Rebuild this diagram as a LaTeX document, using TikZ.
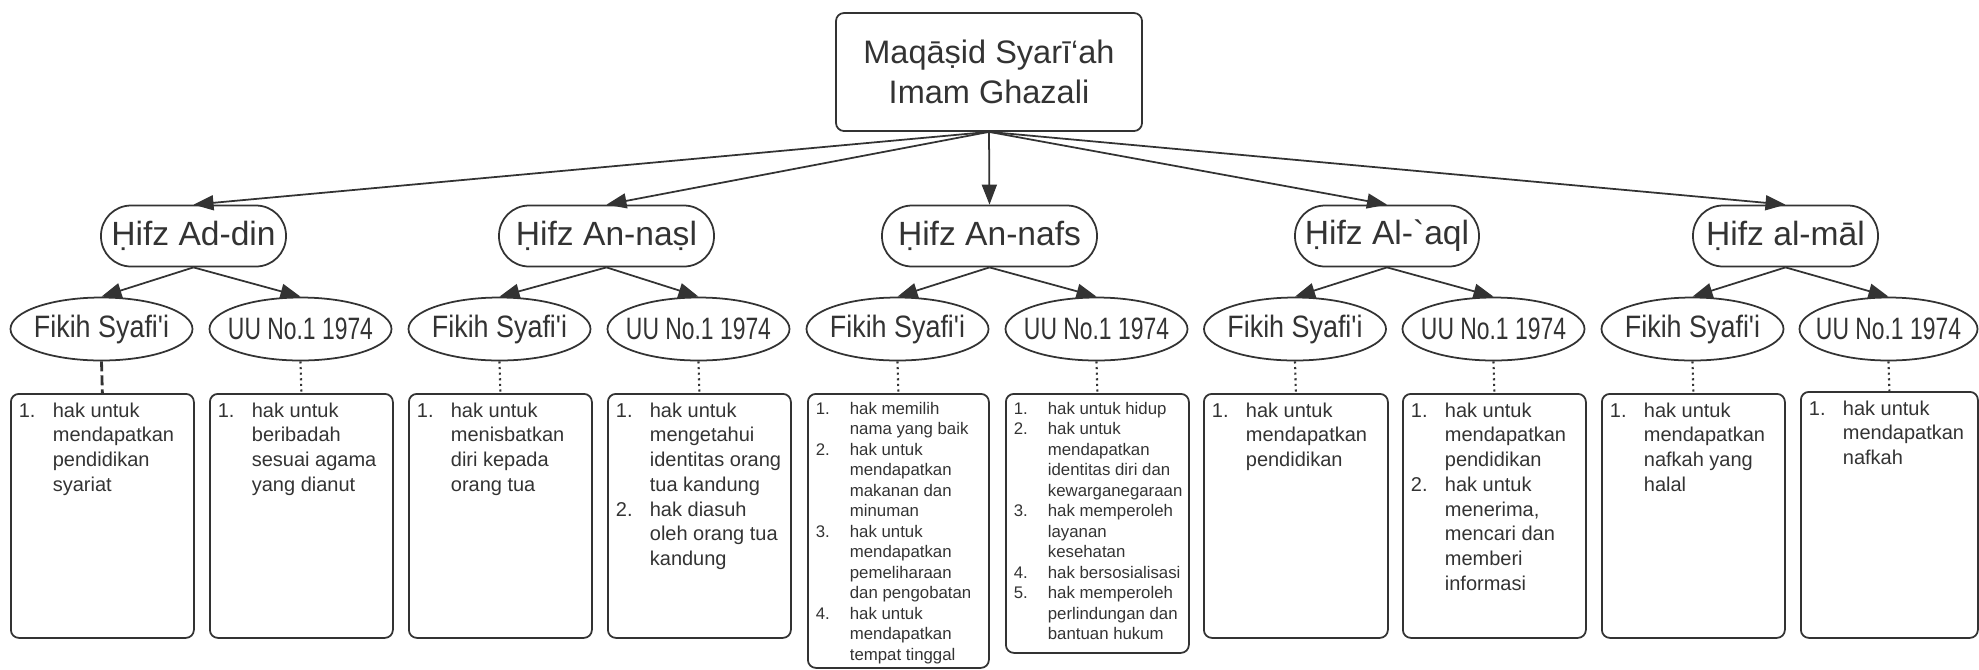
\documentclass[tikz,border=0pt]{standalone}
\usepackage{fontspec}
\setmainfont{Liberation Sans}
\usepackage{graphicx}
\usepackage{tikz}
\usetikzlibrary{arrows.meta,positioning,shapes}

\definecolor{garis}{HTML}{333333}
\definecolor{teks}{HTML}{333333}

\newcommand{\daftar}[3]{\parbox[c][#2][t]{#1}{\begin{tabular}[t]{@{}p{0.34cm}@{}l@{}}#3\end{tabular}}}
\newcommand{\sempit}[2]{\makebox[0pt]{\scalebox{#1}[1]{#2}}}

\begin{document}
\begin{tikzpicture}[
  panah/.style={-{Triangle[length=0.2cm,width=0.15cm]}, draw=garis, line width=0.5pt},
  kapsul/.style={draw=garis, line width=0.5pt, rounded corners=0.3cm, minimum height=0.61cm, inner sep=0pt, text=teks, font=\fontsize{9.56}{11}\selectfont},
  elips/.style={ellipse, draw=garis, line width=0.5pt, minimum width=1.82cm, minimum height=0.63cm, inner sep=0pt, text=teks, font=\fontsize{8.8}{10}\selectfont},
  kotak/.style={draw=garis, line width=0.5pt, rounded corners=0.08cm, anchor=north west, inner xsep=0.08cm, inner ysep=0.06cm, text=teks, font=\fontsize{5.69}{7.03}\selectfont},
  kecil/.style={font=\fontsize{4.78}{5.83}\selectfont},
  titik/.style={draw=garis, line width=0.6pt, densely dotted}
]
\useasboundingbox (0,0) rectangle (19.79,-6.69);

\node[draw=garis, line width=0.5pt, rounded corners=0.08cm, minimum width=3.06cm, minimum height=1.18cm, align=center, text=teks, font=\fontsize{9.25}{11.4}\selectfont] (root) at (9.89,-0.72) {Maqāṣid Syarī‘ah\\Imam Ghazali};

\node[kapsul, minimum width=1.85cm] (hifz1) at (1.935,-2.36) {Ḥifz Ad-din};
\node[kapsul, minimum width=2.15cm] (hifz2) at (6.065,-2.36) {Ḥifz An-naṣl};
\node[kapsul, minimum width=2.15cm] (hifz3) at (9.895,-2.36) {Ḥifz An-nafs};
\node[kapsul, minimum width=1.84cm] (hifz4) at (13.87,-2.36) {Ḥifz Al-\textasciigrave aql};
\node[kapsul, minimum width=1.85cm] (hifz5) at (17.855,-2.36) {Ḥifz al-māl};

\node[elips] (fikih1) at (1.015,-3.29) {\sempit{0.87}{Fikih Syafi\textquotesingle i}};
\node[elips] (uu1) at (3.005,-3.29) {\sempit{0.74}{UU No.1 1974}};
\node[elips] (fikih2) at (4.995,-3.29) {\sempit{0.87}{Fikih Syafi\textquotesingle i}};
\node[elips] (uu2) at (6.985,-3.29) {\sempit{0.74}{UU No.1 1974}};
\node[elips] (fikih3) at (8.975,-3.29) {\sempit{0.87}{Fikih Syafi\textquotesingle i}};
\node[elips] (uu3) at (10.965,-3.29) {\sempit{0.74}{UU No.1 1974}};
\node[elips] (fikih4) at (12.95,-3.29) {\sempit{0.87}{Fikih Syafi\textquotesingle i}};
\node[elips] (uu4) at (14.935,-3.29) {\sempit{0.74}{UU No.1 1974}};
\node[elips] (fikih5) at (16.925,-3.29) {\sempit{0.87}{Fikih Syafi\textquotesingle i}};
\node[elips, minimum width=1.78cm] (uu5) at (18.885,-3.29) {\sempit{0.74}{UU No.1 1974}};

\node[kotak] (hakfikih1) at (0.10,-3.93) {\daftar{1.67cm}{2.32cm}{1. & hak untuk\\ & mendapatkan\\ & pendidikan\\ & syariat}};
\node[kotak] (hakuu1) at (2.09,-3.93) {\daftar{1.67cm}{2.32cm}{1. & hak untuk\\ & beribadah\\ & sesuai agama\\ & yang dianut}};
\node[kotak] (hakfikih2) at (4.08,-3.93) {\daftar{1.67cm}{2.32cm}{1. & hak untuk\\ & menisbatkan\\ & diri kepada\\ & orang tua}};
\node[kotak] (hakuu2) at (6.07,-3.93) {\daftar{1.67cm}{2.32cm}{1. & hak untuk\\ & mengetahui\\ & identitas orang\\ & tua kandung\\ 2. & hak diasuh\\ & oleh orang tua\\ & kandung}};
\node[kotak, kecil] (hakfikih3) at (8.07,-3.93) {\daftar{1.65cm}{2.62cm}{1. & hak memilih\\ & nama yang baik\\ 2. & hak untuk\\ & mendapatkan\\ & makanan dan\\ & minuman\\ 3. & hak untuk\\ & mendapatkan\\ & pemeliharaan\\ & dan pengobatan\\ 4. & hak untuk\\ & mendapatkan\\ & tempat tinggal}};
\node[kotak, kecil] (hakuu3) at (10.05,-3.93) {\daftar{1.67cm}{2.47cm}{1. & hak untuk hidup\\ 2. & hak untuk\\ & mendapatkan\\ & identitas diri dan\\ & kewarganegaraan\\ 3. & hak memperoleh\\ & layanan\\ & kesehatan\\ 4. & hak bersosialisasi\\ 5. & hak memperoleh\\ & perlindungan dan\\ & bantuan hukum}};
\node[kotak] (hakfikih4) at (12.03,-3.93) {\daftar{1.68cm}{2.32cm}{1. & hak untuk\\ & mendapatkan\\ & pendidikan}};
\node[kotak] (hakuu4) at (14.02,-3.93) {\daftar{1.67cm}{2.32cm}{1. & hak untuk\\ & mendapatkan\\ & pendidikan\\ 2. & hak untuk\\ & menerima,\\ & mencari dan\\ & memberi\\ & informasi}};
\node[kotak] (hakfikih5) at (16.01,-3.93) {\daftar{1.67cm}{2.32cm}{1. & hak untuk\\ & mendapatkan\\ & nafkah yang\\ & halal}};
\node[kotak] (hakuu5) at (18.00,-3.91) {\daftar{1.61cm}{2.34cm}{1. & hak untuk\\ & mendapatkan\\ & nafkah}};

\foreach \i in {1,...,5} {
\draw[panah] (root.south) -- (hifz\i.north);
\draw[panah] (hifz\i.south) -- (fikih\i.north);
\draw[panah] (hifz\i.south) -- (uu\i.north);
\draw[titik] (uu\i.south) -- (hakuu\i.north); }
\foreach \i in {2,...,5}
\draw[titik] (fikih\i.south) -- (hakfikih\i.north);
\draw[draw=garis, line width=0.8pt, dash pattern=on 0.1cm off 0.04cm] (fikih1.south) -- (hakfikih1.north);
\end{tikzpicture}
\end{document}
